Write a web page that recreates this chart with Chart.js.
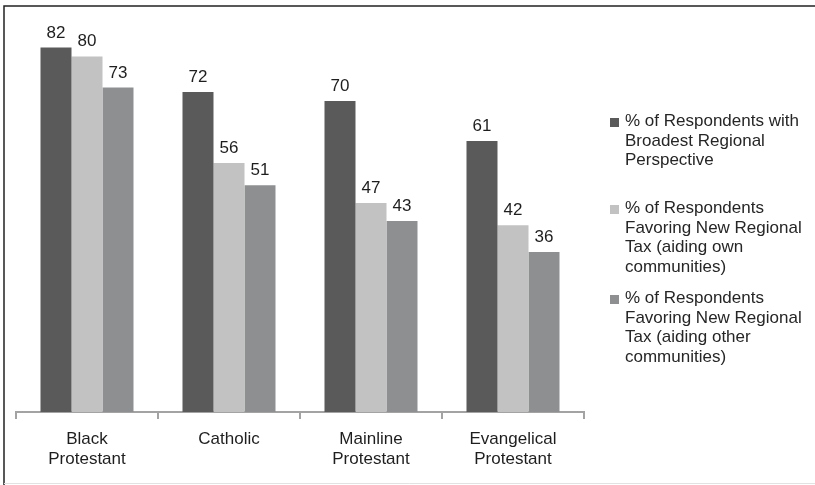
<!DOCTYPE html>
<html>
<head>
<meta charset="utf-8">
<script src="https://cdn.jsdelivr.net/npm/chart.js@4/dist/chart.umd.min.js"></script>
<style>
  html, body { margin: 0; padding: 0; background: #fff; }
  #wrap { width: 815px; height: 485px; position: relative; }
</style>
</head>
<body>
<div id="wrap"><canvas id="chart" width="815" height="485"></canvas></div>
<script>
// categories (two-line labels)
const categories = [
    ['Black', 'Protestant'],
    ['Catholic'],
    ['Mainline', 'Protestant'],
    ['Evangelical', 'Protestant']
];

// series
const broadestPerspective = [82, 72, 70, 61];
const taxOwnCommunities = [80, 56, 47, 42];
const taxOtherCommunities = [73, 51, 43, 36];

const seriesLabels = [
    ['% of Respondents with', 'Broadest Regional', 'Perspective'],
    ['% of Respondents', 'Favoring New Regional', 'Tax (aiding own', 'communities)'],
    ['% of Respondents', 'Favoring New Regional', 'Tax (aiding other', 'communities)']
];

const FONT = '"Liberation Sans", Arial, Helvetica, sans-serif';

// frame round the picture
const framePlugin = {
    id: 'frame',
    beforeDraw(chart) {
        const ctx = chart.ctx;
        ctx.save();
        ctx.fillStyle = '#fff';
        ctx.fillRect(0, 0, chart.width, chart.height);
        ctx.strokeStyle = '#222';
        ctx.lineWidth = 1.5;
        ctx.beginPath();
        ctx.moveTo(4, 485);
        ctx.lineTo(4, 6);
        ctx.lineTo(815, 6);
        ctx.stroke();
        ctx.strokeStyle = '#e2e2e2';
        ctx.lineWidth = 1;
        ctx.beginPath();
        ctx.moveTo(4, 483.5);
        ctx.lineTo(815, 483.5);
        ctx.stroke();
        ctx.restore();
    }
};

// value labels above bars
const valueLabels = {
    id: 'valueLabels',
    afterDatasetsDraw(chart) {
        const ctx = chart.ctx;
        ctx.save();
        ctx.font = '17px ' + FONT;
        ctx.fillStyle = '#1e1e1e';
        ctx.textAlign = 'center';
        ctx.textBaseline = 'alphabetic';
        chart.data.datasets.forEach((ds, i) => {
            chart.getDatasetMeta(i).data.forEach((bar, j) => {
                ctx.fillText(ds.data[j], bar.x, bar.y - 10);
            });
        });
        ctx.restore();
    }
};

// legend on the right
const sideLegend = {
    id: 'sideLegend',
    afterDraw(chart) {
        const ctx = chart.ctx;
        const starts = [126, 213, 303];
        ctx.save();
        ctx.font = '17px ' + FONT;
        ctx.textBaseline = 'alphabetic';
        chart.data.datasets.forEach((ds, i) => {
            const y0 = starts[i];
            ctx.fillStyle = ds.backgroundColor;
            ctx.fillRect(610, y0 - 8, 9, 9);
            ctx.fillStyle = '#262626';
            ds.label.forEach((line, k) => {
                ctx.fillText(line, 625, y0 + k * 19.5);
            });
        });
        ctx.restore();
    }
};

new Chart(document.getElementById('chart'), {
    type: 'bar',
    data: {
        labels: categories,
        datasets: [
            { label: seriesLabels[0], data: broadestPerspective, backgroundColor: '#5a5a5a' },
            { label: seriesLabels[1], data: taxOwnCommunities, backgroundColor: '#c2c2c2' },
            { label: seriesLabels[2], data: taxOtherCommunities, backgroundColor: '#8e8f91' }
        ]
    },
    options: {
        responsive: false,
        animation: false,
        layout: { padding: { left: 16, right: 231, top: 12, bottom: 0 } },
        datasets: {
            bar: { barPercentage: 1, categoryPercentage: 0.655, borderWidth: 0 }
        },
        plugins: {
            legend: { display: false },
            tooltip: { enabled: false }
        },
        scales: {
            x: {
                grid: {
                    offset: true,
                    drawOnChartArea: false,
                    drawTicks: true,
                    tickLength: 7,
                    color: '#a3a3a3',
                    lineWidth: 2
                },
                border: { display: true, color: '#a3a3a3', width: 2 },
                ticks: {
                    color: '#1e1e1e',
                    font: { family: FONT, size: 17 },
                    padding: 10,
                    maxRotation: 0,
                    autoSkip: false
                },
                afterFit(scale) { scale.height = 73; }
            },
            y: {
                display: false,
                min: 0,
                max: 90
            }
        }
    },
    plugins: [framePlugin, valueLabels, sideLegend]
});
</script>
</body>
</html>
